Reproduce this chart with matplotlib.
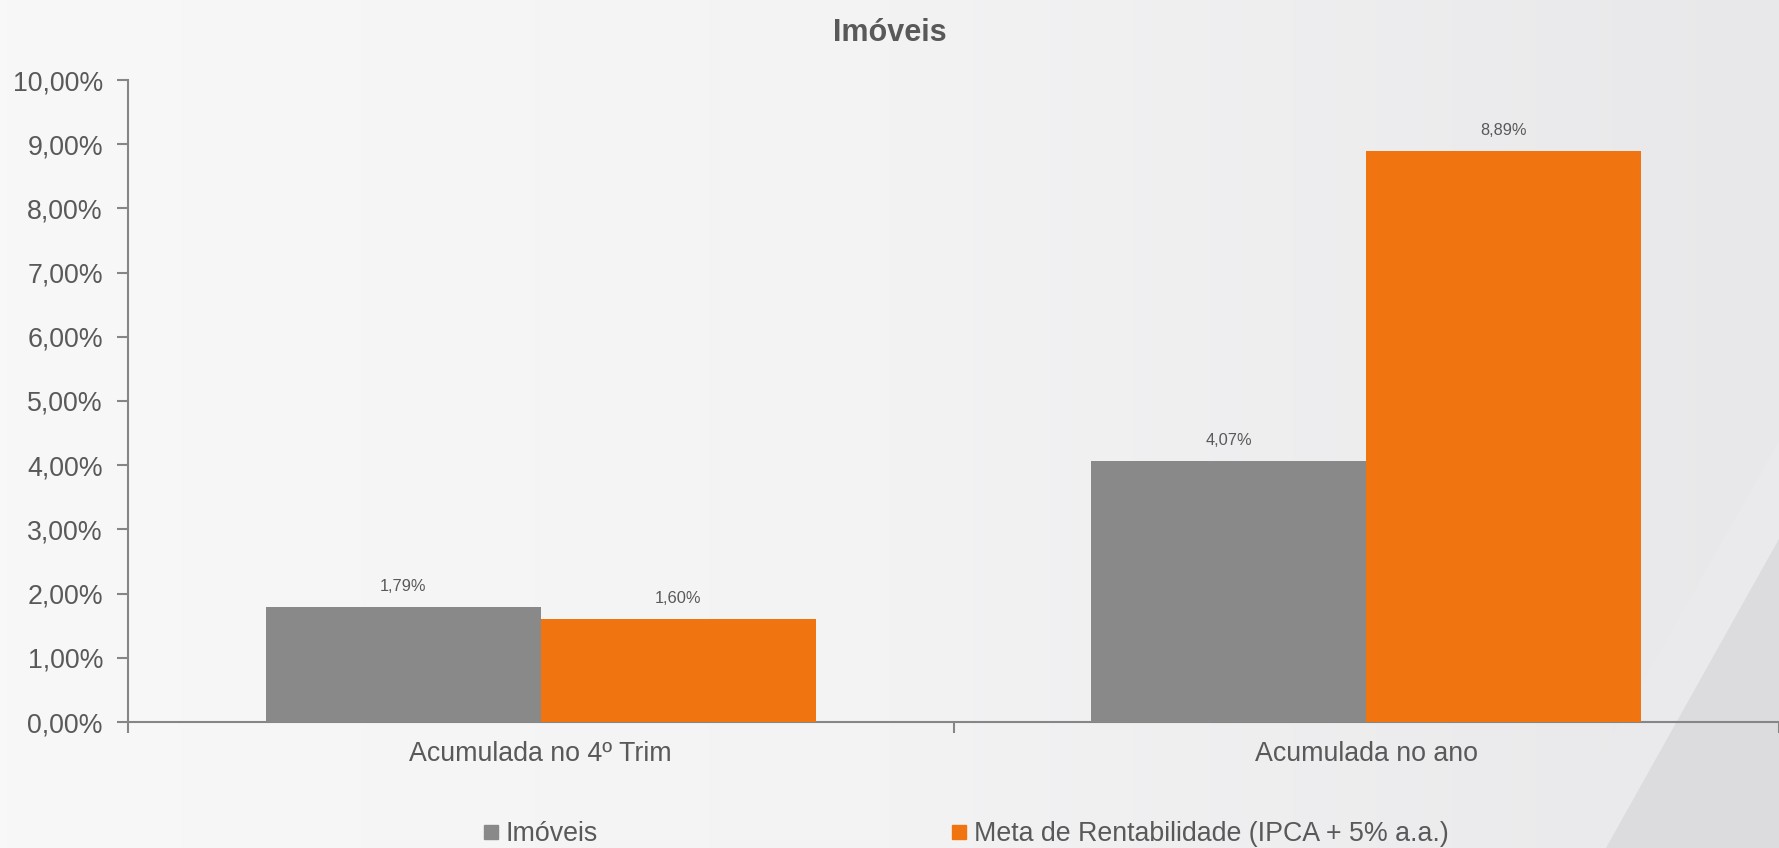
import numpy as np
import matplotlib.pyplot as plt
from matplotlib.colors import LinearSegmentedColormap
from matplotlib.patches import Polygon
from matplotlib.lines import Line2D

categories = ["Acumulada no 4º Trim", "Acumulada no ano"]
imoveis = [1.79, 4.07]
meta = [1.60, 8.89]
series_names = ["Imóveis", "Meta de Rentabilidade (IPCA + 5% a.a.)"]
yticks = [0, 1, 2, 3, 4, 5, 6, 7, 8, 9, 10]

gray = "#898989"
orange = "#F07511"
txt = "#595959"
axis_col = "#868686"

plt.rcParams['font.family'] = ['Liberation Sans', 'DejaVu Sans']

fig = plt.figure(figsize=(17.79, 8.48), dpi=100)

# background: light gradient plus a darker diagonal shape at bottom right
bg = fig.add_axes([0, 0, 1, 1], zorder=-10)
grad = np.linspace(0, 1, 256)[None, :]
bg.imshow(grad, aspect="auto", extent=[0, 1, 0, 1],
          cmap=LinearSegmentedColormap.from_list("bg", ["#F8F8F8", "#F3F3F4", "#E8E8EA"]))
bg.add_patch(Polygon([[0.87, 0], [0.903, 0], [1.0, 0.364], [1.0, 0.48]], closed=True,
                     facecolor="#EAEAEC", edgecolor="none"))
bg.add_patch(Polygon([[0.903, 0], [1.0, 0], [1.0, 0.364]], closed=True,
                     facecolor="#DCDCDE", edgecolor="none"))
bg.set_xlim(0, 1)
bg.set_ylim(0, 1)
bg.axis("off")

ax = fig.add_axes([128 / 1779, 1 - 722 / 848, 1 - 128 / 1779, (722 - 80) / 848])
ax.patch.set_alpha(0)

x = np.arange(len(categories))
w = 1 / 3
b1 = ax.bar(x - w / 2, imoveis, w, color=gray, zorder=3)
b2 = ax.bar(x + w / 2, meta, w, color=orange, zorder=3)

for bars, vals in ((b1, imoveis), (b2, meta)):
    for r, v in zip(bars, vals):
        ax.text(r.get_x() + r.get_width() / 2, v + 0.2, f"{v:.2f}%".replace(".", ","),
                ha="center", va="bottom", fontsize=11.8, color=txt)

ax.set_xlim(-0.5, 1.5)
ax.set_ylim(0, 10)
ax.set_yticks(yticks)
ax.set_yticklabels([f"{t:.2f}%".replace(".", ",") for t in yticks], fontsize=19.3, color=txt)
ax.set_xticks([-0.5, 0.5, 1.5])
ax.set_xticklabels([])
ax.set_xticks(x, minor=True)
ax.set_xticklabels(categories, minor=True, fontsize=19.3, color=txt)
ax.tick_params(axis="x", which="minor", length=0, pad=14)
ax.tick_params(axis="x", which="major", length=8, color=axis_col, width=1.5)
ax.tick_params(axis="y", length=8, color=axis_col, width=1.5, pad=10)

for s in ("top", "right"):
    ax.spines[s].set_visible(False)
for s in ("left", "bottom"):
    ax.spines[s].set_color(axis_col)
    ax.spines[s].set_linewidth(1.5)

fig.text(0.5, 1 - 33 / 848, "Imóveis", ha="center", va="center", fontsize=22,
         fontweight="bold", color=txt)

handles = [Line2D([], [], marker="s", linestyle="none", markersize=10.6, color=c)
           for c in (gray, orange)]
fig.legend(handles, series_names, loc="center left", bbox_to_anchor=(484 / 1779, 1 - 834 / 848),
           ncol=2, frameon=False, fontsize=19.3, labelcolor=txt, handletextpad=0.26,
           columnspacing=13.2, handlelength=0.55, borderpad=0, borderaxespad=0)

fig.savefig("out.png", dpi=100)
